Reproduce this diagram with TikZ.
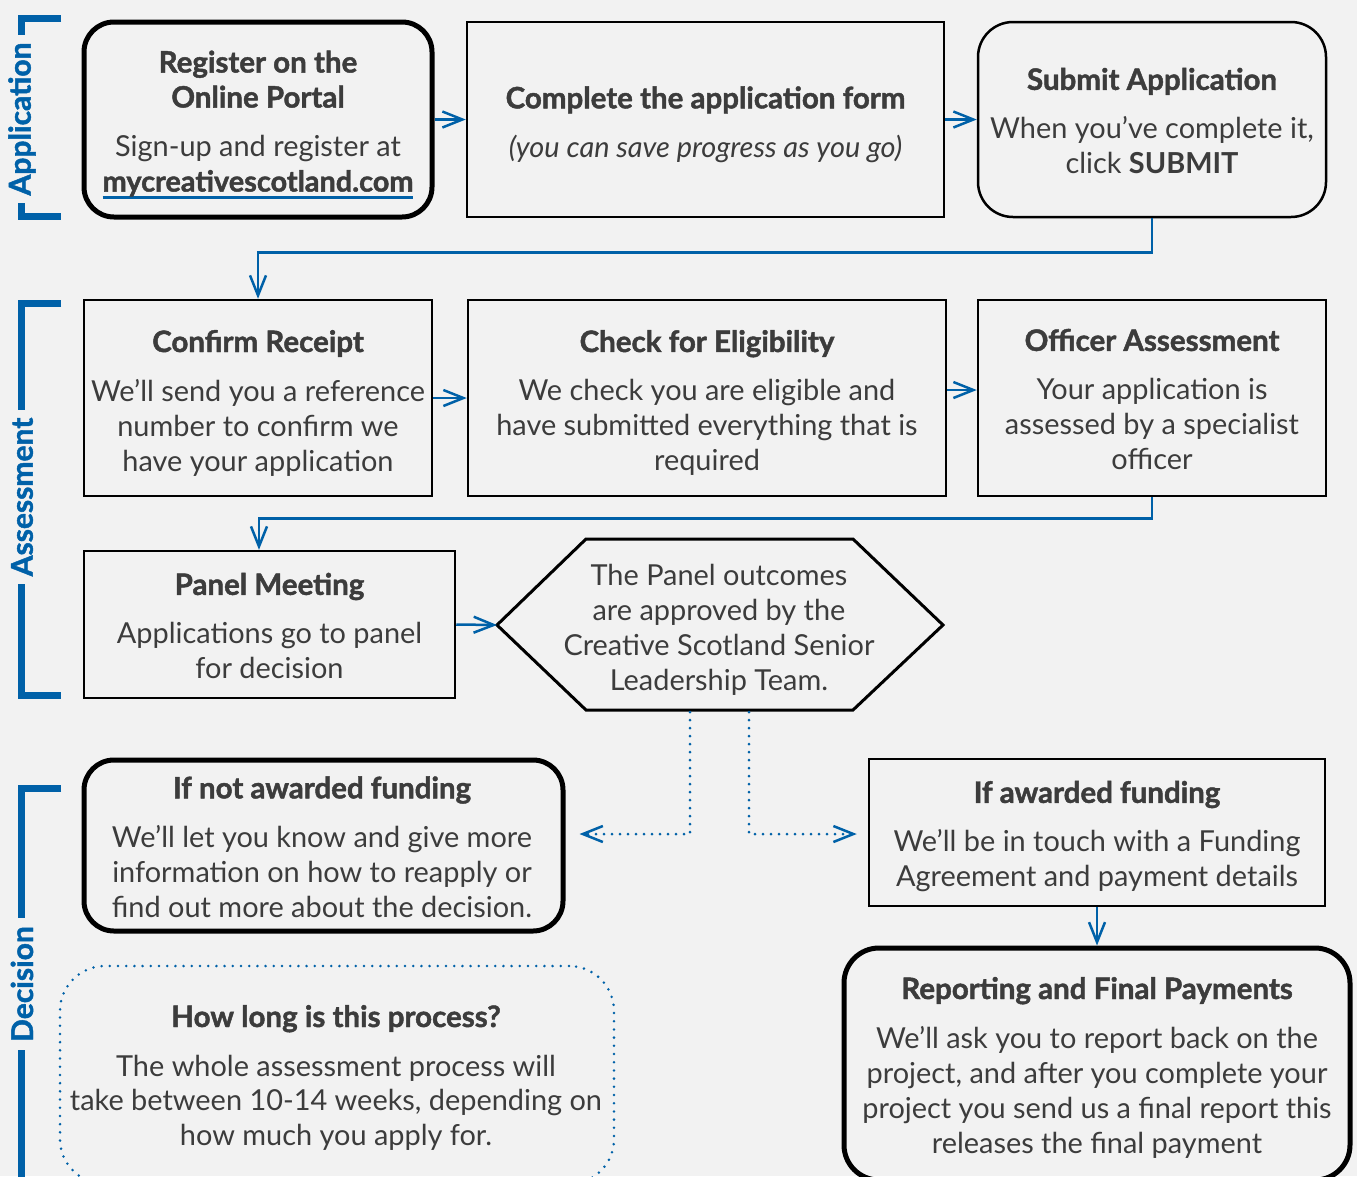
\documentclass[tikz,border=0pt]{standalone}
\usepackage{fontspec}
\setmainfont{Lato}
\newfontfamily\headfamily{Lato}[BoldFeatures={FakeBold=1.5}]
\usetikzlibrary{arrows.meta,calc}
\definecolor{csblue}{HTML}{0061A8}
\definecolor{bgc}{HTML}{F2F2F2}
\definecolor{txt}{HTML}{3C3C3C}
\newcommand{\HeadF}{\fontsize{29.5}{35}\selectfont\headfamily\bfseries}
\newcommand{\BodyF}{\fontsize{28.9}{35}\selectfont\mdseries}
\newsavebox{\linkbox}
\newcommand{\LinkU}[1]{\sbox{\linkbox}{#1}\rlap{\smash{\color{csblue}\rule[-7pt]{\wd\linkbox}{2.5pt}}}\usebox{\linkbox}}
\begin{document}
\begin{tikzpicture}[x=1pt,y=-1pt,
  box/.style={draw=black, line width=2.5pt, inner sep=0pt},
  thickbox/.style={box, line width=5pt},
  tx/.style={align=center, text=txt, inner sep=0pt, font=\BodyF},
  arr/.style={draw=csblue, line width=2.5pt, -{Straight Barb[length=20pt,width=16pt,line width=2.5pt]}},
  dotarr/.style={draw=csblue, line width=3pt, line cap=round, dash pattern=on 0pt off 8pt, -{Straight Barb[length=20pt,width=16pt,line width=2.5pt]}},
  brk/.style={draw=csblue, line width=7pt},
  side/.style={rotate=90, fill=bgc, text=csblue, font=\fontsize{30}{32}\selectfont\headfamily\bfseries, inner xsep=8pt, inner ysep=2pt}
]
\useasboundingbox (0,0) rectangle (1357,1176);
\clip (0,0) rectangle (1357,1176);
\fill[bgc] (0,0) rectangle (1357,1176);

% side brackets
\draw[brk] (61,18.5) -| (21.5,216.5) -- (61,216.5);
\node[side] (labApp) at (22,119) {Application};
\draw[brk] (61,303) -| (21.5,695) -- (61,695);
\node[side] (labAss) at (22,497) {Assessment};
\draw[brk] (61,788) -| (21.5,1190);
\node[side] (labDec) at (22,984) {Decision};

% row 1
\node[thickbox, rounded corners=30pt, minimum width=348pt, minimum height=195pt] (reg) at (258,119.5) {};
\node[tx] (regT) at (258,123.5) {\HeadF Register on the\\\HeadF Online Portal\\[14pt]Sign-up and register at\\\headfamily\bfseries\LinkU{mycreativescotland.com}};
\node[box, minimum width=477pt, minimum height=195pt] (comp) at (705.5,119.5) {};
\node[tx] (compT) at (705.5,124.5) {\HeadF Complete the application form\\[14pt]\itshape (you can save progress as you go)};
\node[box, rounded corners=35pt, minimum width=348pt, minimum height=195pt] (sub) at (1152,119.5) {};
\node[tx] (subT) at (1152,121) {\HeadF Submit Application\\[14pt]When you’ve complete it,\\click \textbf{SUBMIT}};

% row 2
\node[box, minimum width=348pt, minimum height=196pt] (conf) at (258,398) {};
\node[tx] (confT) at (258,403) {\HeadF Confirm Receipt\\[14pt]We’ll send you a reference\\number to confirm we\\have your application};
\node[box, minimum width=478pt, minimum height=196pt] (chk) at (707,398) {};
\node[tx] (chkT) at (707,403) {\HeadF Check for Eligibility\\[14pt]We check you are eligible and\\have submitted everything that is\\required};
\node[box, minimum width=348pt, minimum height=196pt] (off) at (1152,398) {};
\node[tx] (offT) at (1152,399.5) {\HeadF Officer Assessment\\[14pt]Your application is\\assessed by a specialist\\officer};

% row 3
\node[box, minimum width=371pt, minimum height=147pt] (pan) at (269.5,624.5) {};
\node[tx] (panT) at (269.5,626) {\HeadF Panel Meeting\\[14pt]Applications go to panel\\for decision};
\coordinate (hl) at (497,625);
\coordinate (htl) at (586,539);
\coordinate (htr) at (853,539);
\coordinate (hr) at (943,625);
\coordinate (hbr) at (853,710);
\coordinate (hbl) at (586,710);
\draw[black, line width=3pt, line join=miter] (hl) -- (htl) -- (htr) -- (hr) -- (hbr) -- (hbl) -- cycle;
\node[tx] (hexT) at (719,629.5) {The Panel outcomes\\are approved by the\\Creative Scotland Senior\\Leadership Team.};
\coordinate (d1) at (690,712);
\coordinate (d2) at (749,712);

% decision
\node[thickbox, rounded corners=30pt, minimum width=479pt, minimum height=171pt] (nota) at (323.5,845.5) {};
\node[tx] (notaT) at (322,847) {\HeadF If not awarded funding\\[14pt]We’ll let you know and give more\\information on how to reapply or\\find out more about the decision.};
\node[box, minimum width=456pt, minimum height=147pt] (aw) at (1097,832.5) {};
\node[tx] (awT) at (1097,836.5) {\HeadF If awarded funding\\[14pt]We’ll be in touch with a Funding\\Agreement and payment details};
\node[thickbox, rounded corners=35pt, minimum width=506pt, minimum height=232pt] (rep) at (1097,1064) {};
\node[tx] (repT) at (1097,1067.5) {\HeadF Reporting and Final Payments\\[14pt]We’ll ask you to report back on the\\project, and after you complete your\\project you send us a final report this\\releases the final payment};
\node[draw=csblue, line width=2.8pt, line cap=round, dash pattern=on 0pt off 8.2pt, rounded corners=45pt, minimum width=554pt, minimum height=218pt, inner sep=0pt] (how) at (337,1075) {};
\node[tx] (howT) at (336,1078) {\HeadF How long is this process?\\[14pt]The whole assessment process will\\take between 10-14 weeks, depending on\\how much you apply for.};

% connectors
\draw[arr] (reg.east) -- (comp.west);
\draw[arr] (comp.east) -- (sub.west);
\draw[arr] (sub.south) -- ++(0,34) -| (conf.north);
\draw[arr] (conf.east) -- (chk.west);
\draw[arr] ([yshift=8pt]chk.east) -- ([yshift=8pt]off.west);
\draw[arr] (off.south) -- ++(0,21) -| ([xshift=-10.5pt]pan.north);
\draw[arr] (pan.east) -- (hl);
\draw[dotarr] (d1) |- ([xshift=14pt,yshift=11.5pt]nota.east);
\draw[dotarr] (d2) |- ([xshift=-11pt,yshift=-1.5pt]aw.west);
\draw[arr] (aw.south) -- (rep.north);
\end{tikzpicture}
\end{document}
